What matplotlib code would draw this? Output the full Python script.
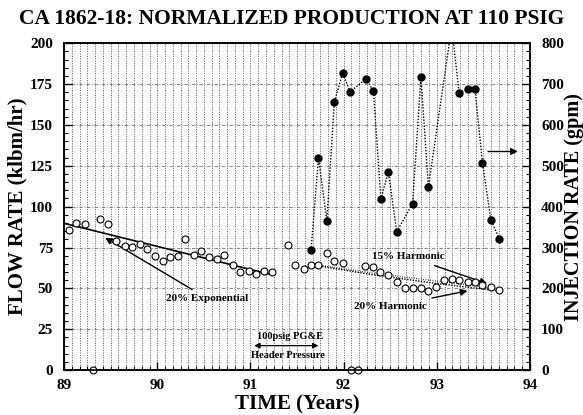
import numpy as np
import matplotlib
matplotlib.use("Agg")
import matplotlib.pyplot as plt
from matplotlib.ticker import MultipleLocator

# ---- data ----
t_flow = [89.05, 89.13, 89.22, 89.31, 89.39, 89.47, 89.56, 89.65, 89.73, 89.81,
          89.89, 89.98, 90.06, 90.14, 90.22, 90.30, 90.39, 90.47, 90.56, 90.64,
          90.72, 90.81, 90.89, 90.98, 91.06, 91.15, 91.23, 91.40, 91.48, 91.57,
          91.65, 91.73, 91.82, 91.90, 91.99, 92.08, 92.15, 92.23, 92.31, 92.39,
          92.48, 92.57, 92.66, 92.74, 92.83, 92.91, 92.99, 93.08, 93.16, 93.24,
          93.33, 93.41, 93.49, 93.58, 93.67]
flow = [86, 90, 89.6, 0, 92.7, 89.6, 79, 76, 75.6, 77,
        74.4, 70, 67, 69, 70, 80, 70.7, 73, 69, 67.7,
        70.3, 64.6, 59.8, 60.4, 59, 60.6, 60, 76.8, 64.6, 61.6,
        64.6, 64.6, 71.5, 66.5, 65.4, 0, 0, 64, 63, 60,
        58.5, 54, 50, 50, 50, 48.4, 51, 55, 56, 55,
        54, 53.7, 52, 50.6, 48.8]

t_inj = [91.65, 91.73, 91.82, 91.90, 91.99, 92.07, 92.24, 92.32, 92.40, 92.48,
         92.57, 92.74, 92.83, 92.91, 93.16, 93.24, 93.33, 93.41, 93.49, 93.58, 93.67]
inj = [293, 519, 366, 656, 727, 681, 713, 683, 419, 485,
       339, 407, 717, 448, 840, 678, 688, 687, 508, 368, 322]

# decline-curve lines
t_exp = [89.0, 91.22]
q_exp = [89.8, 58.5]
t_h15 = [91.65, 92.3, 93.0, 93.7]
q_h15 = [65.0, 59.5, 54.5, 49.5]
t_h20 = [91.65, 92.3, 93.0, 93.7]
q_h20 = [64.5, 58.5, 53.0, 48.3]

x_ticks = [89, 90, 91, 92, 93, 94]
y_ticks = [0, 25, 50, 75, 100, 125, 150, 175, 200]
y2_ticks = [0, 100, 200, 300, 400, 500, 600, 700, 800]

plt.rcParams['font.family'] = ['Liberation Serif', 'DejaVu Serif']
plt.rcParams['font.weight'] = 'bold'

fig = plt.figure(figsize=(5.83, 4.15), dpi=100)
ax = fig.add_axes([0.110, 0.108, 0.799, 0.788])
ax2 = ax.twinx()

# grid: dense monthly vertical dotted lines, dash-dot horizontals
for m in np.arange(89 + 1/12, 94, 1/12):
    ax.axvline(m, color='0.35', lw=0.7, ls=(0, (1, 1.5)), zorder=0)
for yv in y_ticks[1:-1]:
    ax.axhline(yv, color='0.45', lw=0.6, ls=(0, (4, 2, 1, 2)), zorder=0)

ax.plot(t_exp, q_exp, color='black', lw=1.2, zorder=3)
ax.plot(t_h20, q_h20, color='black', lw=1.0, ls=(0, (1, 1)), zorder=3)
ax.plot(t_h15, q_h15, color='black', lw=1.0, ls=(0, (0.5, 1.2)), zorder=3)

ax.plot(t_flow, flow, ls='none', marker='o', ms=5, mfc='white', mec='black',
        mew=0.8, zorder=4, clip_on=False)

ax2.plot(t_inj, inj, color='black', lw=1.0, ls=(0, (1, 1.2)), marker='o', ms=5,
         mfc='black', mec='black', zorder=4)

ax.set_xlim(89, 94)
ax.set_ylim(0, 200)
ax2.set_ylim(0, 800)
ax.set_xticks(x_ticks)
ax.set_yticks(y_ticks)
ax2.set_yticks(y2_ticks)
ax.xaxis.set_minor_locator(MultipleLocator(1/12))
ax.yaxis.set_minor_locator(MultipleLocator(5))
ax2.yaxis.set_minor_locator(MultipleLocator(20))

for a in (ax, ax2):
    a.tick_params(which='major', direction='in', length=6, width=1, labelsize=11)
    a.tick_params(which='minor', direction='in', length=3, width=0.8)
    for s in a.spines.values():
        s.set_linewidth(1.2)
ax.tick_params(axis='x', pad=6)
ax.tick_params(axis='y', pad=8)
ax2.tick_params(axis='y', pad=8)

ax.set_xlabel('TIME (Years)', fontsize=15, fontweight='bold', labelpad=2)
ax.set_ylabel('FLOW RATE (klbm/hr)', fontsize=15, fontweight='bold', labelpad=2)
ax2.set_ylabel('INJECTION RATE (gpm)', fontsize=14.5, fontweight='bold',
               va='center')
ax2.yaxis.set_label_coords(1.095, 0.5)
fig.suptitle('CA 1862-18: NORMALIZED PRODUCTION AT 110 PSIG', fontsize=15.5,
             fontweight='bold', x=0.50, y=0.978)

# annotations
ax.annotate('20% Exponential', xy=(89.44, 81), xytext=(90.09, 44),
            fontsize=8, fontweight='bold', ha='left', va='center',
            arrowprops=dict(arrowstyle='-|>', color='black', lw=1.0,
                            shrinkA=2, shrinkB=0, mutation_scale=10))
ax.annotate('15% Harmonic', xy=(93.54, 53), xytext=(92.69, 69.5),
            fontsize=8, fontweight='bold', ha='center', va='center',
            arrowprops=dict(arrowstyle='-|>', color='black', lw=1.0,
                            shrinkA=4, shrinkB=0, mutation_scale=10))
ax.annotate('20% Harmonic', xy=(93.33, 48.5), xytext=(92.5, 39),
            fontsize=8, fontweight='bold', ha='center', va='center',
            arrowprops=dict(arrowstyle='-|>', color='black', lw=1.0,
                            shrinkA=4, shrinkB=0, mutation_scale=10))
ax.text(91.42, 20.5, '100psig PG&E', fontsize=7.5, fontweight='bold',
        ha='center', va='center')
ax.text(91.4, 9, 'Header Pressure', fontsize=7.5, fontweight='bold',
        ha='center', va='center')
ax.annotate('', xy=(91.04, 15), xytext=(91.73, 15),
            arrowprops=dict(arrowstyle='<|-|>', color='black', lw=0.9,
                            shrinkA=0, shrinkB=0, mutation_scale=8))
ax2.annotate('', xy=(93.87, 535), xytext=(93.55, 535),
             arrowprops=dict(arrowstyle='-|>', color='black', lw=1.0,
                             shrinkA=0, shrinkB=0, mutation_scale=10))

fig.savefig('out.png', dpi=100)
